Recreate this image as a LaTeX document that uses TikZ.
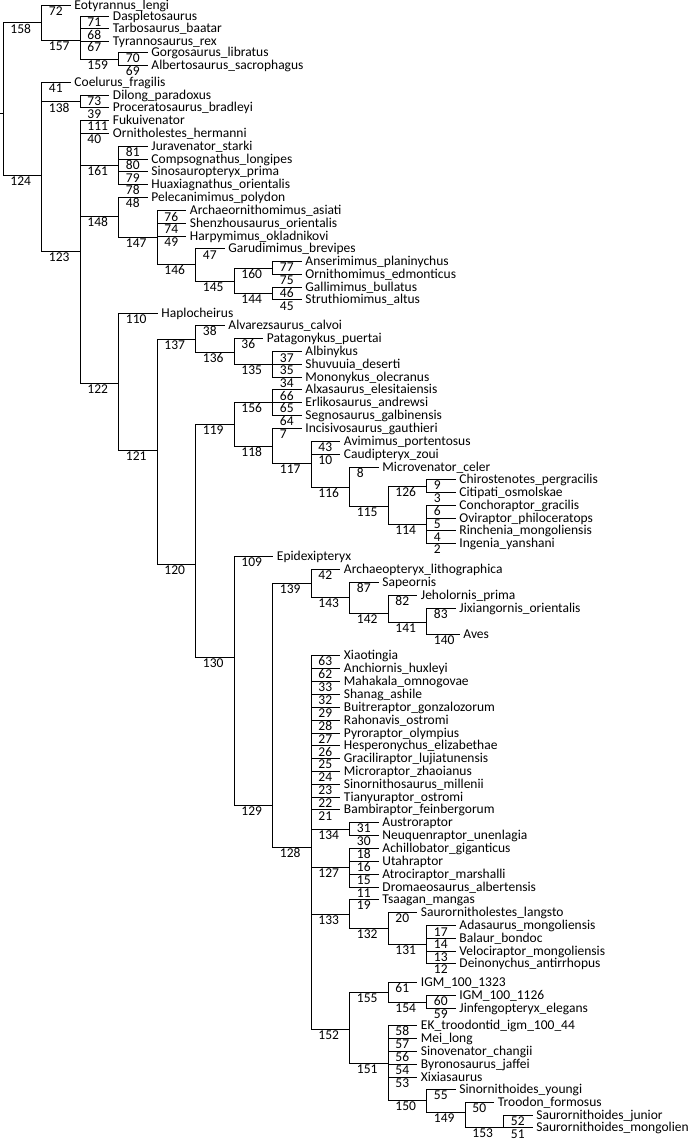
\documentclass[tikz,border=0pt]{standalone}
\usepackage{fontspec}
\setmainfont{Carlito}
\usepackage{tikz}

\begin{document}
\begin{tikzpicture}[x=1pt, y=-1pt, line width=0.9pt,
    leaf/.style={anchor=west, inner xsep=3.5pt, inner ysep=0pt, text height=8.5pt, text depth=0pt, font=\fontsize{13.5}{14}\selectfont},
    num/.style={pos=.5, anchor=base west, xshift=7pt, yshift=-10.5pt, inner sep=0pt, font=\fontsize{13.5}{14}\selectfont},
    branch/.style={every edge/.style={draw, to path={|- (\tikztotarget) \tikztonodes}}, nodes={num}}]

        \useasboundingbox (0,0) rectangle (700,1140);

        \coordinate (stub) at (0,113);
        \coordinate (root) at (3,113);
        \coordinate (c158) at (41.5,22.7);
        \coordinate (c157) at (80,40.3);
        \coordinate (c159) at (118.5,59);
        \coordinate (c124) at (41.5,175);
        \coordinate (c138) at (80,101.5);
        \coordinate (c123) at (80,251);
        \coordinate (c161) at (118.5,165);
        \coordinate (c148) at (118.5,216);
        \coordinate (c147) at (157,237);
        \coordinate (c146) at (195.5,264);
        \coordinate (c145) at (234,281);
        \coordinate (c160) at (272.5,268);
        \coordinate (c144) at (272.5,293);
        \coordinate (c122) at (118.5,383);
        \coordinate (c121) at (157,450);
        \coordinate (c137) at (195.5,339);
        \coordinate (c136) at (234,352);
        \coordinate (c135) at (272.5,364);
        \coordinate (c120) at (195.5,564);
        \coordinate (c119) at (234,424);
        \coordinate (c156) at (272.5,402);
        \coordinate (c118) at (272.5,446);
        \coordinate (c117) at (311,463);
        \coordinate (c116) at (349.5,487);
        \coordinate (c115) at (388,506);
        \coordinate (c126) at (426.5,486);
        \coordinate (c114) at (426.5,524);
        \coordinate (c130) at (234,657);
        \coordinate (c129) at (272.5,805);
        \coordinate (c139) at (311,583);
        \coordinate (c143) at (349.5,597);
        \coordinate (c142) at (388,613);
        \coordinate (c141) at (426.5,622);
        \coordinate (c128) at (311,847);
        \coordinate (c134) at (349.5,829);
        \coordinate (c127) at (349.5,867);
        \coordinate (c133) at (349.5,914);
        \coordinate (c132) at (388,928);
        \coordinate (c131) at (426.5,944);
        \coordinate (c152) at (349.5,1029);
        \coordinate (c155) at (388,992);
        \coordinate (c154) at (426.5,1002);
        \coordinate (c151) at (388,1063);
        \coordinate (c150) at (426.5,1100);
        \coordinate (c149) at (465,1112);
        \coordinate (c153) at (503.5,1127);

        \node[leaf] (eotyrannus) at (70.5,5) {Eotyrannus\_lengi};
        \node[leaf] (daspletosaurus) at (109,16) {Daspletosaurus};
        \node[leaf] (tarbosaurus) at (109,28.7) {Tarbosaurus\_baatar};
        \node[leaf] (tyrannosaurus) at (109,41.3) {Tyrannosaurus\_rex};
        \node[leaf] (gorgosaurus) at (147.5,52.5) {Gorgosaurus\_libratus};
        \node[leaf] (albertosaurus) at (147.5,65) {Albertosaurus\_sacrophagus};
        \node[leaf] (coelurus) at (70.5,82) {Coelurus\_fragilis};
        \node[leaf] (dilong) at (109,95) {Dilong\_paradoxus};
        \node[leaf] (proceratosaurus) at (109,107.5) {Proceratosaurus\_bradleyi};
        \node[leaf] (fukuivenator) at (109,120) {Fukuivenator};
        \node[leaf] (ornitholestes) at (109,133) {Ornitholestes\_hermanni};
        \node[leaf] (juravenator) at (147.5,146) {Juravenator\_starki};
        \node[leaf] (compsognathus) at (147.5,159) {Compsognathus\_longipes};
        \node[leaf] (sinosauropteryx) at (147.5,171.5) {Sinosauropteryx\_prima};
        \node[leaf] (huaxiagnathus) at (147.5,184) {Huaxiagnathus\_orientalis};
        \node[leaf] (pelecanimimus) at (147.5,197) {Pelecanimimus\_polydon};
        \node[leaf] (archaeornithomimus) at (186,210.5) {Archaeornithomimus\_asiati};
        \node[leaf] (shenzhousaurus) at (186,223) {Shenzhousaurus\_orientalis};
        \node[leaf] (harpymimus) at (186,236) {Harpymimus\_okladnikovi};
        \node[leaf] (garudimimus) at (224.5,248.5) {Garudimimus\_brevipes};
        \node[leaf] (anserimimus) at (301.5,261) {Anserimimus\_planinychus};
        \node[leaf] (ornithomimus) at (301.5,274) {Ornithomimus\_edmonticus};
        \node[leaf] (gallimimus) at (301.5,287) {Gallimimus\_bullatus};
        \node[leaf] (struthiomimus) at (301.5,299.5) {Struthiomimus\_altus};
        \node[leaf] (haplocheirus) at (157.5,313) {Haplocheirus};
        \node[leaf] (alvarezsaurus) at (224.5,325) {Alvarezsaurus\_calvoi};
        \node[leaf] (patagonykus) at (263,338) {Patagonykus\_puertai};
        \node[leaf] (albinykus) at (301.5,351.5) {Albinykus};
        \node[leaf] (shuvuuia) at (301.5,364) {Shuvuuia\_deserti};
        \node[leaf] (mononykus) at (301.5,377) {Mononykus\_olecranus};
        \node[leaf] (alxasaurus) at (301.5,389.5) {Alxasaurus\_elesitaiensis};
        \node[leaf] (erlikosaurus) at (301.5,402) {Erlikosaurus\_andrewsi};
        \node[leaf] (segnosaurus) at (301.5,415) {Segnosaurus\_galbinensis};
        \node[leaf] (incisivosaurus) at (301.5,428) {Incisivosaurus\_gauthieri};
        \node[leaf] (avimimus) at (340,441) {Avimimus\_portentosus};
        \node[leaf] (caudipteryx) at (340,454) {Caudipteryx\_zoui};
        \node[leaf] (microvenator) at (378.5,467) {Microvenator\_celer};
        \node[leaf] (chirostenotes) at (455.5,479) {Chirostenotes\_pergracilis};
        \node[leaf] (citipati) at (455.5,492) {Citipati\_osmolskae};
        \node[leaf] (conchoraptor) at (455.5,505) {Conchoraptor\_gracilis};
        \node[leaf] (oviraptor) at (455.5,518) {Oviraptor\_philoceratops};
        \node[leaf] (rinchenia) at (455.5,530.5) {Rinchenia\_mongoliensis};
        \node[leaf] (ingenia) at (455.5,543) {Ingenia\_yanshani};
        \node[leaf] (epidexipteryx) at (273,556) {Epidexipteryx};
        \node[leaf] (archaeopteryx) at (340,569) {Archaeopteryx\_lithographica};
        \node[leaf] (sapeornis) at (378.5,582) {Sapeornis};
        \node[leaf] (jeholornis) at (417,595) {Jeholornis\_prima};
        \node[leaf] (jixiangornis) at (455.5,608) {Jixiangornis\_orientalis};
        \node[leaf] (aves) at (459.5,634) {Aves};
        \node[leaf] (xiaotingia) at (340,655) {Xiaotingia};
        \node[leaf] (anchiornis) at (340,668) {Anchiornis\_huxleyi};
        \node[leaf] (mahakala) at (340,681) {Mahakala\_omnogovae};
        \node[leaf] (shanag) at (340,694) {Shanag\_ashile};
        \node[leaf] (buitreraptor) at (340,707) {Buitreraptor\_gonzalozorum};
        \node[leaf] (rahonavis) at (340,720) {Rahonavis\_ostromi};
        \node[leaf] (pyroraptor) at (340,733) {Pyroraptor\_olympius};
        \node[leaf] (hesperonychus) at (340,745.5) {Hesperonychus\_elizabethae};
        \node[leaf] (graciliraptor) at (340,758) {Graciliraptor\_lujiatunensis};
        \node[leaf] (microraptor) at (340,771) {Microraptor\_zhaoianus};
        \node[leaf] (sinornithosaurus) at (340,784) {Sinornithosaurus\_millenii};
        \node[leaf] (tianyuraptor) at (340,797) {Tianyuraptor\_ostromi};
        \node[leaf] (bambiraptor) at (340,809.5) {Bambiraptor\_feinbergorum};
        \node[leaf] (austroraptor) at (378.5,822) {Austroraptor};
        \node[leaf] (neuquenraptor) at (378.5,835) {Neuquenraptor\_unenlagia};
        \node[leaf] (achillobator) at (378.5,848) {Achillobator\_giganticus};
        \node[leaf] (utahraptor) at (378.5,861) {Utahraptor};
        \node[leaf] (atrociraptor) at (378.5,874) {Atrociraptor\_marshalli};
        \node[leaf] (dromaeosaurus) at (378.5,887) {Dromaeosaurus\_albertensis};
        \node[leaf] (tsaagan) at (378.5,899) {Tsaagan\_mangas};
        \node[leaf] (saurornitholestes) at (417,912) {Saurornitholestes\_langsto};
        \node[leaf] (adasaurus) at (455.5,925.5) {Adasaurus\_mongoliensis};
        \node[leaf] (balaur) at (455.5,938) {Balaur\_bondoc};
        \node[leaf] (velociraptor) at (455.5,951) {Velociraptor\_mongoliensis};
        \node[leaf] (deinonychus) at (455.5,963) {Deinonychus\_antirrhopus};
        \node[leaf] (igm1323) at (417,982) {IGM\_100\_1323};
        \node[leaf] (igm1126) at (455.5,995) {IGM\_100\_1126};
        \node[leaf] (jinfengopteryx) at (455.5,1008) {Jinfengopteryx\_elegans};
        \node[leaf] (ektroodontid) at (417,1025) {EK\_troodontid\_igm\_100\_44};
        \node[leaf] (meilong) at (417,1038) {Mei\_long};
        \node[leaf] (sinovenator) at (417,1051) {Sinovenator\_changii};
        \node[leaf] (byronosaurus) at (417,1064) {Byronosaurus\_jaffei};
        \node[leaf] (xixiasaurus) at (417,1077) {Xixiasaurus};
        \node[leaf] (sinornithoides) at (455.5,1089) {Sinornithoides\_youngi};
        \node[leaf] (troodon) at (494,1102) {Troodon\_formosus};
        \node[leaf] (saurjunior) at (532.5,1115) {Saurornithoides\_junior};
        \node[leaf] (saurmongolien) at (532.5,1127.5) {Saurornithoides\_mongolien};

        \draw (stub) -- (root);

        \path[branch]
        (root) edge node {158} (c158)
        (root) edge node {124} (c124)
        (c158) edge node {72} (eotyrannus)
        (c158) edge node {157} (c157)
        (c157) edge node {71} (daspletosaurus)
        (c157) edge node {68} (tarbosaurus)
        (c157) edge node {67} (tyrannosaurus)
        (c157) edge node {159} (c159)
        (c159) edge node {70} (gorgosaurus)
        (c159) edge node {69} (albertosaurus)

        (c124) edge node {41} (coelurus)
        (c124) edge node {138} (c138)
        (c124) edge node {123} (c123)
        (c138) edge node {73} (dilong)
        (c138) edge node {39} (proceratosaurus)

        (c123) edge node {111} (fukuivenator)
        (c123) edge node {40} (ornitholestes)
        (c123) edge node {161} (c161)
        (c123) edge node {148} (c148)
        (c123) edge node {122} (c122)
        (c161) edge node {81} (juravenator)
        (c161) edge node {80} (compsognathus)
        (c161) edge node {79} (sinosauropteryx)
        (c161) edge node {78} (huaxiagnathus)

        (c148) edge node {48} (pelecanimimus)
        (c148) edge node {147} (c147)
        (c147) edge node {76} (archaeornithomimus)
        (c147) edge node {74} (shenzhousaurus)
        (c147) edge node {49} (harpymimus)
        (c147) edge node {146} (c146)
        (c146) edge node {47} (garudimimus)
        (c146) edge node {145} (c145)
        (c145) edge node {160} (c160)
        (c145) edge node {144} (c144)
        (c160) edge node {77} (anserimimus)
        (c160) edge node {75} (ornithomimus)
        (c144) edge node {46} (gallimimus)
        (c144) edge node {45} (struthiomimus)

        (c122) edge node {110} (haplocheirus)
        (c122) edge node {121} (c121)
        (c121) edge node {137} (c137)
        (c121) edge node {120} (c120)
        (c137) edge node {38} (alvarezsaurus)
        (c137) edge node {136} (c136)
        (c136) edge node {36} (patagonykus)
        (c136) edge node {135} (c135)
        (c135) edge node {37} (albinykus)
        (c135) edge node {35} (shuvuuia)
        (c135) edge node {34} (mononykus)

        (c120) edge node {119} (c119)
        (c120) edge node {130} (c130)
        (c119) edge node {156} (c156)
        (c119) edge node {118} (c118)
        (c156) edge node {66} (alxasaurus)
        (c156) edge node {65} (erlikosaurus)
        (c156) edge node {64} (segnosaurus)
        (c118) edge node {7} (incisivosaurus)
        (c118) edge node {117} (c117)
        (c117) edge node {43} (avimimus)
        (c117) edge node {10} (caudipteryx)
        (c117) edge node {116} (c116)
        (c116) edge node {8} (microvenator)
        (c116) edge node {115} (c115)
        (c115) edge node {126} (c126)
        (c115) edge node {114} (c114)
        (c126) edge node {9} (chirostenotes)
        (c126) edge node {3} (citipati)
        (c114) edge node {6} (conchoraptor)
        (c114) edge node {5} (oviraptor)
        (c114) edge node {4} (rinchenia)
        (c114) edge node {2} (ingenia)

        (c130) edge node {109} (epidexipteryx)
        (c130) edge node {129} (c129)
        (c129) edge node {139} (c139)
        (c129) edge node {128} (c128)
        (c139) edge node {42} (archaeopteryx)
        (c139) edge node {143} (c143)
        (c143) edge node {87} (sapeornis)
        (c143) edge node {142} (c142)
        (c142) edge node {82} (jeholornis)
        (c142) edge node {141} (c141)
        (c141) edge node {83} (jixiangornis)
        (c141) edge node {140} (aves)

        (c128) edge node {63} (xiaotingia)
        (c128) edge node {62} (anchiornis)
        (c128) edge node {33} (mahakala)
        (c128) edge node {32} (shanag)
        (c128) edge node {29} (buitreraptor)
        (c128) edge node {28} (rahonavis)
        (c128) edge node {27} (pyroraptor)
        (c128) edge node {26} (hesperonychus)
        (c128) edge node {25} (graciliraptor)
        (c128) edge node {24} (microraptor)
        (c128) edge node {23} (sinornithosaurus)
        (c128) edge node {22} (tianyuraptor)
        (c128) edge node {21} (bambiraptor)
        (c128) edge node {134} (c134)
        (c128) edge node {127} (c127)
        (c128) edge node {133} (c133)
        (c128) edge node {152} (c152)
        (c134) edge node {31} (austroraptor)
        (c134) edge node {30} (neuquenraptor)
        (c127) edge node {18} (achillobator)
        (c127) edge node {16} (utahraptor)
        (c127) edge node {15} (atrociraptor)
        (c127) edge node {11} (dromaeosaurus)
        (c133) edge node {19} (tsaagan)
        (c133) edge node {132} (c132)
        (c132) edge node {20} (saurornitholestes)
        (c132) edge node {131} (c131)
        (c131) edge node {17} (adasaurus)
        (c131) edge node {14} (balaur)
        (c131) edge node {13} (velociraptor)
        (c131) edge node {12} (deinonychus)

        (c152) edge node {155} (c155)
        (c152) edge node {151} (c151)
        (c155) edge node {61} (igm1323)
        (c155) edge node {154} (c154)
        (c154) edge node {60} (igm1126)
        (c154) edge node {59} (jinfengopteryx)
        (c151) edge node {58} (ektroodontid)
        (c151) edge node {57} (meilong)
        (c151) edge node {56} (sinovenator)
        (c151) edge node {54} (byronosaurus)
        (c151) edge node {53} (xixiasaurus)
        (c151) edge node {150} (c150)
        (c150) edge node {55} (sinornithoides)
        (c150) edge node {149} (c149)
        (c149) edge node {50} (troodon)
        (c149) edge node {153} (c153)
        (c153) edge node {52} (saurjunior)
        (c153) edge node {51} (saurmongolien);

    \end{tikzpicture}
\end{document}
